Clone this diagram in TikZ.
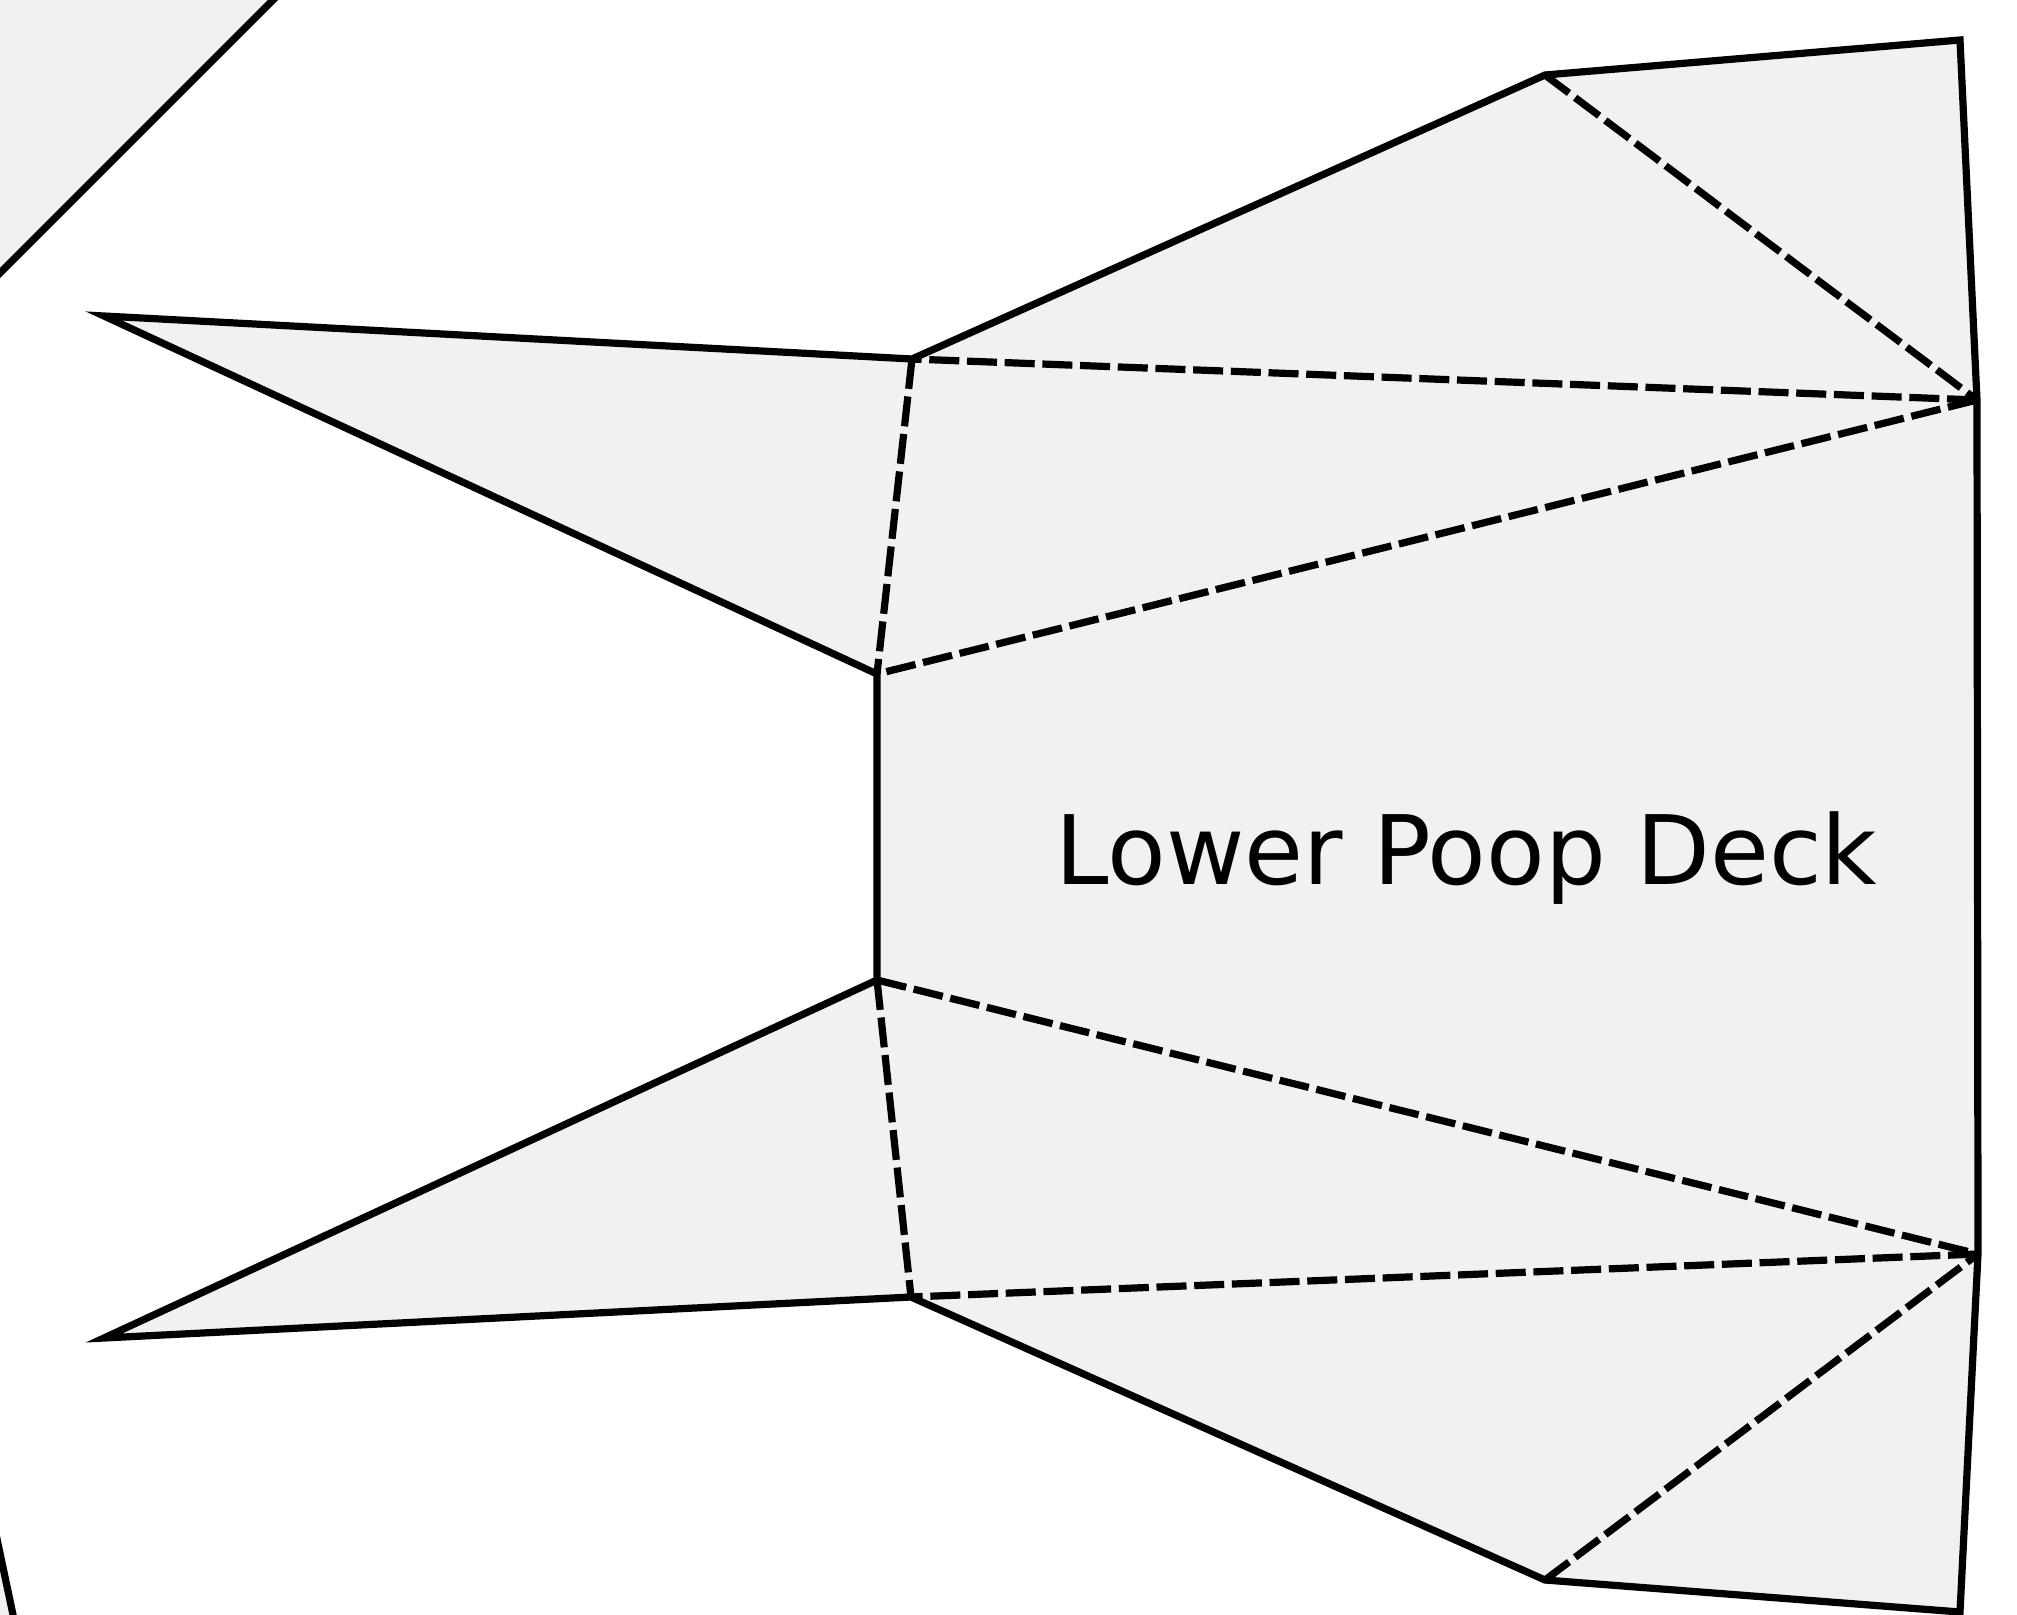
\documentclass[tikz,border=0pt]{standalone}
\usepackage{fontspec}
\setmainfont{DejaVu Sans}
\definecolor{deckgray}{HTML}{F1F1F1}
\tikzset{
  deck/.style={draw=black,line width=0.072cm,fill=deckgray,miter limit=20},
  fold/.style={draw=black,line width=0.072cm,dash pattern=on 0.30cm off 0.077cm},
}
\begin{document}
\begin{tikzpicture}[x=0.01cm,y=-0.01cm]
\useasboundingbox (0,0) rectangle (2017,1615);
\clip (0,0) rectangle (2017,1615);
\coordinate (topa) at (1545,75);
\coordinate (topb) at (1960,40);
\coordinate (sternt) at (1977,400);
\coordinate (sternb) at (1978,1254);
\coordinate (botb) at (1960,1612);
\coordinate (bota) at (1545,1580);
\coordinate (waistb) at (911,1297);
\coordinate (tipb) at (104,1338);
\coordinate (innerb) at (877,980);
\coordinate (innert) at (877,674);
\coordinate (tipt) at (104,316);
\coordinate (waistt) at (912,359);

% neighbouring decks at the corners
\path[deck] (-10,-10) -- (283,-10) -- (-10,283) -- cycle;
\path[deck] (-14,1487) -- (17.5,1636) -- (-25,1636) -- cycle;

% outline
\path[deck] (topa) -- (topb) -- (sternt) -- (sternb) -- (botb) -- (bota) -- (waistb)
  -- (tipb) -- (innerb) -- (innert) -- (tipt) -- (waistt) -- cycle;

% folds
\path[fold] (topa) -- (sternt);
\path[fold] (sternt) -- (waistt);
\path[fold] (sternt) -- (innert);
\path[fold] (waistt) -- (innert);
\path[fold] (innerb) -- (sternb);
\path[fold] (sternb) -- (waistb);
\path[fold] (innerb) -- (waistb);
\path[fold] (bota) -- (sternb);

\node[anchor=base,inner sep=0pt,font=\fontsize{27.26pt}{33pt}\selectfont] (decklabel) at (1466.5,884) {Lower Poop Deck};
\end{tikzpicture}
\end{document}
